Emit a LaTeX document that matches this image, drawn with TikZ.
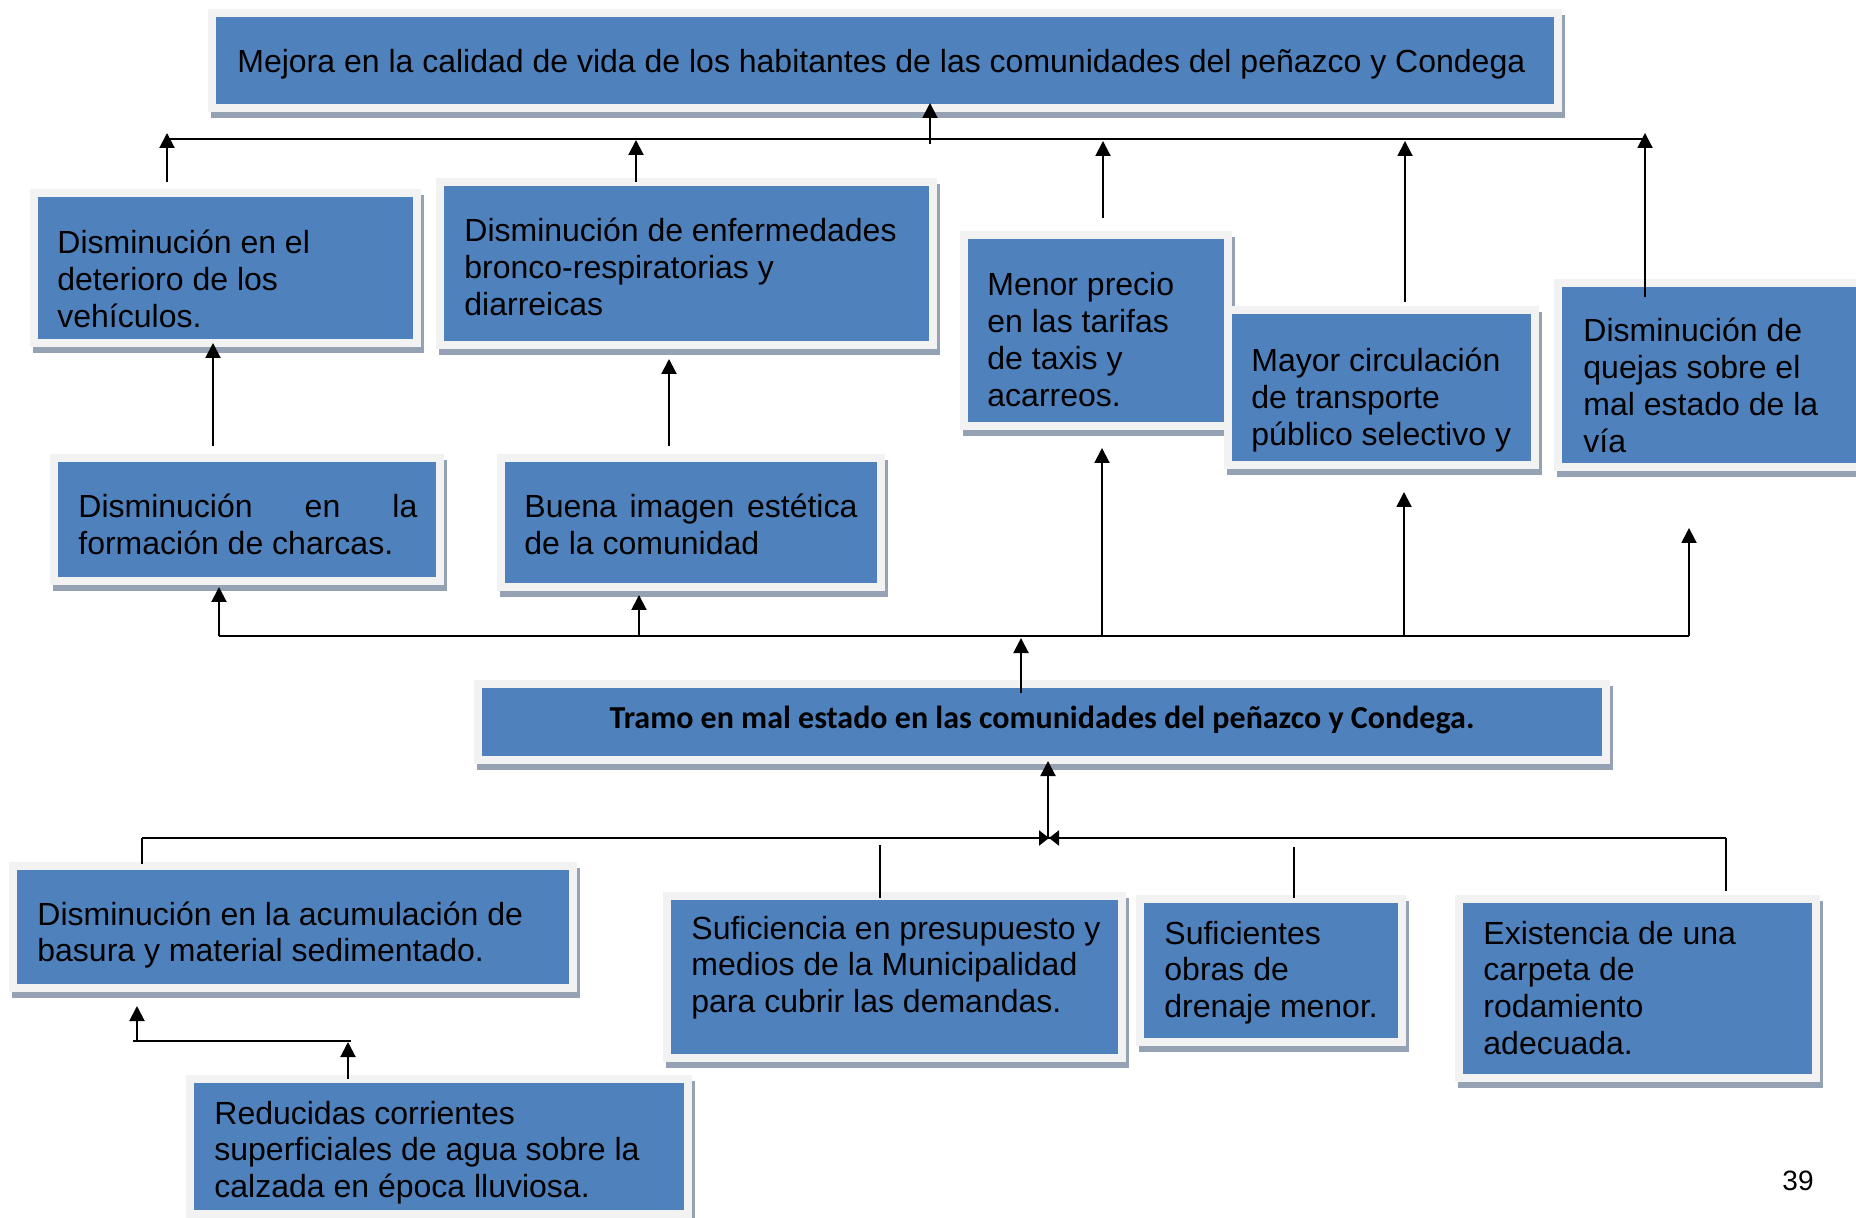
\documentclass[tikz,border=0pt]{standalone}
\usepackage{fontspec}
\setmainfont{Liberation Sans}
\newfontfamily\calib{Carlito}
\usetikzlibrary{arrows.meta,fit}
\definecolor{boxblue}{HTML}{4F81BD}
\definecolor{boxborder}{HTML}{F2F2F2}
\definecolor{boxshadow}{HTML}{94A2B3}
\newcommand\mkbox[5]{%
  \fill[boxshadow] ({#2-5},{#3-2}) rectangle ({#4+11},{#5+14});
  \fill[boxborder] ({#2-8},{#3-8}) rectangle ({#4+8},{#5+8});
  \node[bluebox, fit={(#2,#3) (#4,#5)}] (#1) {};
}
\begin{document}
\begin{tikzpicture}[x=0.5pt,y=-0.5pt,
  bluebox/.style={fill=boxblue, draw=none, inner sep=0pt},
  link/.style={line width=1pt, black},
  arr/.style={link, -{Triangle[length=7.5pt,width=7.5pt]}},
  bow/.style={link, -{Triangle[length=5pt,width=7.5pt]}},
  txt/.style={anchor=base west, inner sep=0pt, font=\fontsize{16}{18.4}\selectfont},
  boldtxt/.style={anchor=base, inner sep=0pt, font=\calib\bfseries\fontsize{16}{18}\selectfont}]
\fill[white] (0,0) rectangle (1856,1218);
\useasboundingbox (0,0) rectangle (1856,1218);
\clip (0,0) rectangle (1856,1218);

% boxes
\mkbox{b1}{216}{17}{1554}{104}
\mkbox{b2}{38}{197}{413}{339}
\mkbox{b3}{444}{186}{929}{341}
\mkbox{b4}{968}{239}{1224}{422}
\mkbox{b5}{1232}{314}{1531}{461}
\mkbox{b6}{1562}{287}{1890}{463}
\mkbox{b7}{58}{462}{436}{577}
\mkbox{b8}{505}{462}{877}{583}
\mkbox{b9}{482}{688}{1602}{756}
\mkbox{b10}{17}{870}{569}{984}
\mkbox{b11}{671}{900}{1118}{1054}
\mkbox{b12}{1144}{903}{1398}{1038}
\mkbox{b13}{1463}{903}{1812}{1074}
\mkbox{b14}{194}{1083}{684}{1210}

% texts
\node[txt] (t1) at (237,73) {Mejora en la calidad de vida de los habitantes de las comunidades del peñazco y Condega};
\node[txt] (t2) at (57,254) {\begin{tabular}[t]{@{}l@{}}Disminución en el\\deterioro de los\\vehículos.\end{tabular}};
\node[txt] (t3) at (464,242) {\begin{tabular}[t]{@{}l@{}}Disminución de enfermedades\\bronco-respiratorias y\\diarreicas\end{tabular}};
\node[txt] (t4) at (987,296) {\begin{tabular}[t]{@{}l@{}}Menor precio\\en las tarifas\\de taxis y\\acarreos.\end{tabular}};
\node[txt] (t5) at (1251,372) {\begin{tabular}[t]{@{}l@{}}Mayor circulación\\de transporte\\público selectivo y\end{tabular}};
\node[txt] (t6) at (1583,342) {\begin{tabular}[t]{@{}l@{}}Disminución de\\quejas sobre el\\mal estado de la\\vía\end{tabular}};
\node[txt] (t7) at (78,518) {\begin{tabular}[t]{@{}l@{}}\makebox[169.5pt][s]{Disminución en la}\\formación de charcas.\end{tabular}};
\node[txt] (t8) at (524,518) {\begin{tabular}[t]{@{}l@{}}\makebox[166.5pt][s]{Buena imagen estética}\\de la comunidad\end{tabular}};
\node[boldtxt] (t9) at (1042,728) {Tramo en mal estado en las comunidades del peñazco y Condega.};
\node[txt] (t10) at (37,925) {\begin{tabular}[t]{@{}l@{}}Disminución en la acumulación de\\basura y material sedimentado.\end{tabular}};
\node[txt] (t11) at (691,939) {\begin{tabular}[t]{@{}l@{}}Suficiencia en presupuesto y\\medios de la Municipalidad\\para cubrir las demandas.\end{tabular}};
\node[txt] (t12) at (1164,944) {\begin{tabular}[t]{@{}l@{}}Suficientes\\obras de\\drenaje menor.\end{tabular}};
\node[txt] (t13) at (1483,944) {\begin{tabular}[t]{@{}l@{}}Existencia de una\\carpeta de\\rodamiento\\adecuada.\end{tabular}};
\node[txt] (t14) at (214,1124) {\begin{tabular}[t]{@{}l@{}}Reducidas corrientes\\superficiales de agua sobre la\\calzada en época lluviosa.\end{tabular}};
\node[anchor=base, inner sep=0pt, font=\fontsize{14}{16}\selectfont] (pg) at (1798,1190) {39};

% top connectors
\coordinate (tl) at (167,139); \coordinate (tr) at (1645,139);
\draw[link] (tl) -- (tr);
\coordinate (a1s) at (167,182); \coordinate (a1e) at (167,133);
\coordinate (a2s) at (636,182); \coordinate (a2e) at (636,140);
\coordinate (a3s) at (930,144); \coordinate (a3e) at (930,103);
\coordinate (a4s) at (1103,218); \coordinate (a4e) at (1103,141);
\coordinate (a5s) at (1405,302); \coordinate (a5e) at (1405,141);
\coordinate (a6s) at (1645,297); \coordinate (a6e) at (1645,133);
\draw[arr] (a1s) -- (a1e);
\draw[arr] (a2s) -- (a2e);
\draw[arr] (a3s) -- (a3e);
\draw[arr] (a4s) -- (a4e);
\draw[arr] (a5s) -- (a5e);
\draw[arr] (a6s) -- (a6e);

% middle connectors
\coordinate (m1s) at (213,446); \coordinate (m1e) at (213,343);
\coordinate (m2s) at (669,446); \coordinate (m2e) at (669,359);
\draw[arr] (m1s) -- (m1e);
\draw[arr] (m2s) -- (m2e);

% bottom line of effects
\coordinate (bl) at (219,636); \coordinate (br) at (1689,636);
\draw[link] (bl) -- (br);
\coordinate (c1e) at (219,587);
\coordinate (c2s) at (639,636); \coordinate (c2e) at (639,595);
\coordinate (c3s) at (1021,693); \coordinate (c3e) at (1021,638);
\coordinate (c4s) at (1102,636); \coordinate (c4e) at (1102,448);
\coordinate (c5s) at (1404,636); \coordinate (c5e) at (1404,492);
\coordinate (c6e) at (1689,528);
\draw[arr] (bl) -- (c1e);
\draw[arr] (c2s) -- (c2e);
\draw[arr] (c3s) -- (c3e);
\draw[arr] (c4s) -- (c4e);
\draw[arr] (c5s) -- (c5e);
\draw[arr] (br) -- (c6e);

% causes
\coordinate (j) at (1048,838); \coordinate (je) at (1048,761);
\draw[arr] (j) -- (je);
\coordinate (cl) at (142,838); \coordinate (cr) at (1726,838);
\draw[link] (cl) -- (cr);
\coordinate (bwl) at (1030,838); \coordinate (bwr) at (1068,838); \coordinate (bwc) at (1049,838);
\draw[bow] (bwl) -- (bwc);
\draw[bow] (bwr) -- (bwc);
\coordinate (k1) at (142,864);
\coordinate (k2s) at (880,845); \coordinate (k2e) at (880,898);
\coordinate (k3s) at (1294,847); \coordinate (k3e) at (1294,898);
\coordinate (k4) at (1726,891);
\draw[link] (cl) -- (k1);
\draw[link] (k2s) -- (k2e);
\draw[link] (k3s) -- (k3e);
\draw[link] (cr) -- (k4);

% bottom-left
\coordinate (r1s) at (348,1079); \coordinate (r1e) at (348,1042);
\coordinate (rl) at (133,1041); \coordinate (rr) at (351,1041);
\coordinate (r2s) at (137,1041); \coordinate (r2e) at (137,1006);
\draw[arr] (r1s) -- (r1e);
\draw[link] (rl) -- (rr);
\draw[arr] (r2s) -- (r2e);
\end{tikzpicture}
\end{document}
